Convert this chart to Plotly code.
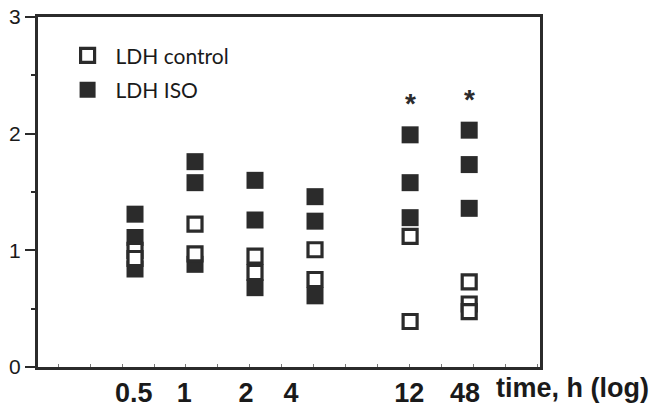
import numpy as np
import plotly.graph_objects as go

# ---- data ----
time_labels = ["0.5", "1", "2", "4", "12", "48"]
# position of each time column on the chart's (compressed) log2 time axis
time_axis_pos = [-1.0, 0.0, 1.0, 2.0, 3.585, 4.57]
# where the original puts each time label on that same axis
label_axis_pos = [-1.02, -0.18, 0.85, 1.6, 3.57, 4.5]

ldh_control = [
    [1.00, 0.93],
    [1.225, 0.97],
    [0.95, 0.81],
    [1.005, 0.75],
    [1.12, 0.39],
    [0.73, 0.54, 0.475],
]
ldh_iso = [
    [1.31, 1.11, 0.84],
    [1.76, 1.58, 0.88],
    [1.60, 1.26, 0.68],
    [1.46, 1.25, 0.61],
    [1.99, 1.58, 1.28],
    [2.03, 1.735, 1.36],
]
significant = [False, False, False, False, True, True]

y_ticks = [0, 1, 2, 3]
y_minor_ticks = [0.5, 1.5, 2.5]

DARK = "#2b2b2b"
TEXT = "#1a1a1a"


def flatten(groups):
    xs, ys = [], []
    for pos, vals in zip(time_axis_pos, groups):
        for v in vals:
            xs.append(pos)
            ys.append(v)
    return xs, ys


xi, yi = flatten(ldh_iso)
xc, yc = flatten(ldh_control)

fig = go.Figure()
fig.add_trace(go.Scatter(
    x=xi, y=yi, mode="markers", name="LDH ISO", legendrank=2, legendgroup="iso",
    marker=dict(symbol="square", size=17, color=DARK, line=dict(width=0)),
    cliponaxis=False,
))
fig.add_trace(go.Scatter(
    x=xc, y=yc, mode="markers", name="LDH control", legendrank=1, legendgroup="ctl",
    marker=dict(symbol="square", size=14, color="white", line=dict(width=3.2, color=DARK)),
    cliponaxis=False,
))

# significance stars
for pos, vals, sig in zip(time_axis_pos, ldh_iso, significant):
    if sig:
        fig.add_annotation(x=pos, y=max(vals), text="*", showarrow=False,
                           yshift=31,
                           font=dict(family="Liberation Sans", size=28, color=DARK, weight="bold"))

# axis title placed after the tick labels (right of the plot area)
fig.add_annotation(x=1.0, xref="paper", xanchor="left", xshift=-46,
                   y=0, yref="paper", yanchor="top", yshift=-4,
                   text="time, h (log)", showarrow=False,
                   font=dict(family="Liberation Sans", size=27, color=TEXT, weight="bold"))

fig.update_layout(
    width=655, height=413,
    margin=dict(l=38, r=115, t=17, b=46, autoexpand=False),
    paper_bgcolor="white", plot_bgcolor="white",
    showlegend=True,
    legend=dict(x=0.043, y=0.948, xanchor="left", yanchor="top",
                font=dict(family="Lato", size=21, color=TEXT),
                bgcolor="rgba(0,0,0,0)", itemsizing="trace", itemwidth=46,
                tracegroupgap=4),
)

px_per_unit = 60.0
fig.update_xaxes(
    range=[-2.617, 5.75], automargin=False,
    tickmode="array", tickvals=label_axis_pos, ticktext=time_labels,
    ticks="", ticklabelstandoff=0,
    tickfont=dict(family="Liberation Sans", size=27, color=TEXT, weight="bold"),
    showline=True, linewidth=3, linecolor=DARK, mirror=True,
    showgrid=False, zeroline=False,
    minor=dict(ticks="inside", ticklen=3, tickwidth=1, tickcolor="#777",
               tick0=-2.617 + 20 / px_per_unit, dtick=32 / px_per_unit),
)
fig.update_yaxes(
    range=[0, 3], automargin=False,
    tickmode="array", tickvals=y_ticks,
    ticks="outside", ticklen=10, tickwidth=2, tickcolor=DARK,
    tickfont=dict(family="Liberation Sans", size=21, color=TEXT),
    showline=True, linewidth=3, linecolor=DARK, mirror=True,
    showgrid=False, zeroline=False,
    minor=dict(ticks="outside", ticklen=4, tickwidth=2, tickcolor=DARK,
               tickmode="array", tickvals=y_minor_ticks),
)

fig.write_html("out.html", config={"displayModeBar": False},
               post_script="document.body.style.margin='0';")
